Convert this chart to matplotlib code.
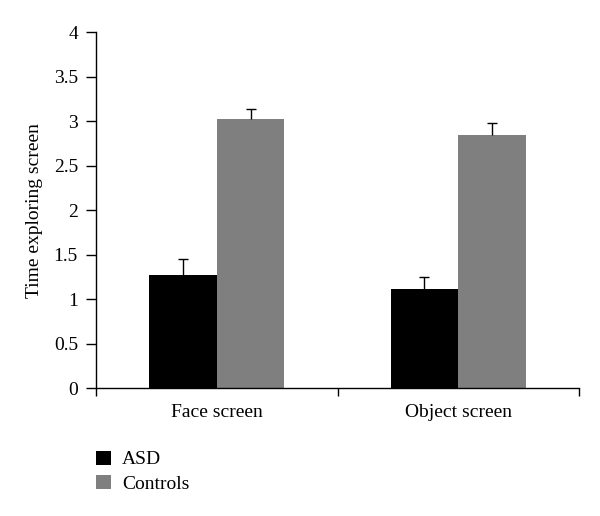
import numpy as np
import matplotlib
matplotlib.use("Agg")
import matplotlib.pyplot as plt

plt.rcParams['font.family'] = ['Liberation Serif', 'DejaVu Serif']

categories = ['Face screen', 'Object screen']
groups = ['ASD', 'Controls']
asd_means = [1.27, 1.12]
asd_err = [0.18, 0.13]
ctrl_means = [3.03, 2.85]
ctrl_err = [0.11, 0.13]
colors = ['#000000', '#7f7f7f']

fig = plt.figure(figsize=(6.0, 5.16), dpi=100)
ax = fig.add_axes([0.16, 0.2475, 0.805, 0.69])

x = np.arange(len(categories))
w = 0.28


def bars_with_upper_err(xpos, means, errs, color, label):
    ax.bar(xpos, means, w, color=color, label=label)
    _, caps, _ = ax.errorbar(xpos, means, yerr=[np.zeros(len(errs)), errs],
                             fmt='none', ecolor='black', elinewidth=1.0,
                             capsize=3.3, capthick=1.0)
    # only the upper cap is wanted
    caps[0].set_visible(False)


bars_with_upper_err(x - w / 2, asd_means, asd_err, colors[0], groups[0])
bars_with_upper_err(x + w / 2, ctrl_means, ctrl_err, colors[1], groups[1])

ax.set_xlim(-0.5, len(categories) - 0.5)
ax.set_ylim(0, 4)
ax.set_yticks(np.arange(0, 4.01, 0.5))
ax.set_yticklabels(['0', '0.5', '1', '1.5', '2', '2.5', '3', '3.5', '4'])
ax.set_xticks(x)
ax.set_xticklabels(categories)
ax.tick_params(axis='x', length=0, pad=11, labelsize=14)
ax.set_xticks(np.arange(-0.5, len(categories)), minor=True)
ax.tick_params(axis='x', which='minor', length=6, width=1, direction='out')
ax.tick_params(axis='y', length=7, width=1, direction='out', labelsize=14, pad=6)

for s in ['top', 'right']:
    ax.spines[s].set_visible(False)
ax.spines['left'].set_linewidth(1)
ax.spines['bottom'].set_linewidth(1)

ax.set_ylabel('Time exploring screen', fontsize=14, labelpad=8)

fig.legend(loc='upper left', bbox_to_anchor=(0.147, 0.142), frameon=False,
           fontsize=14, handlelength=0.75, handleheight=0.75, handletextpad=0.6,
           labelspacing=0.35, borderaxespad=0)

fig.savefig('out.png', dpi=100)
